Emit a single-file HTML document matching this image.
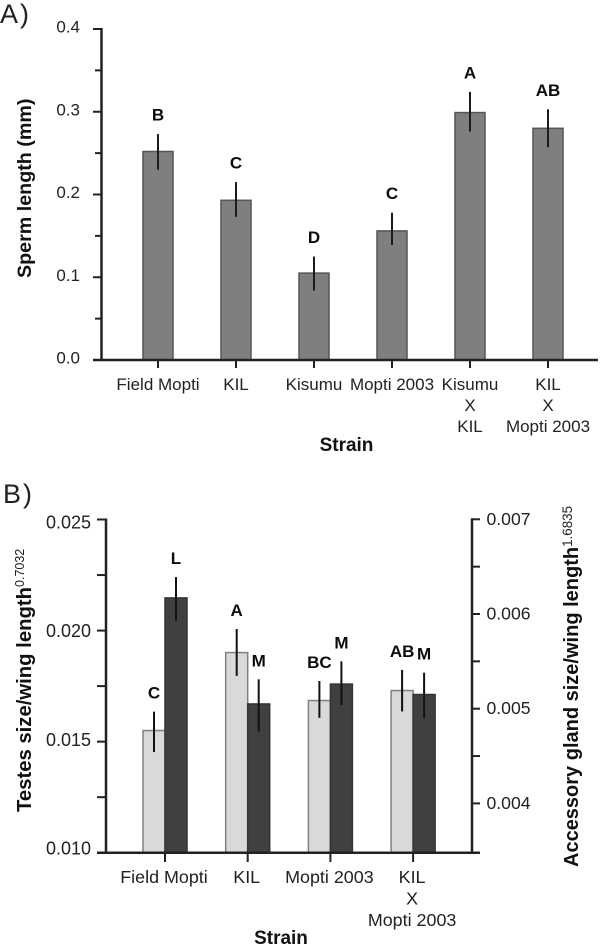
<!DOCTYPE html>
<html lang="en">
<head>
<meta charset="utf-8">
<title>Sperm length and reproductive organ size by strain</title>
<style>
  html, body { margin: 0; padding: 0; background: #fff; }
  body { width: 600px; height: 945px; overflow: hidden; }
  svg { display: block; font-family: "Liberation Sans", Arial, sans-serif; filter: blur(0.35px); }
  .title { font-weight: bold; fill: #111; }
  .sup { font-weight: normal; fill: #222; }
</style>
</head>
<body>
<svg id="figure" xmlns="http://www.w3.org/2000/svg" width="600" height="945" viewBox="0 0 600 945">
  <rect x="0" y="0" width="600" height="945" fill="#ffffff"/>
  <text x="0" y="23" font-size="27" letter-spacing="2" fill="#222">A)</text>
  <text x="3" y="503" font-size="27" letter-spacing="2" fill="#222">B)</text>

  <text class="title" transform="translate(31,278) rotate(-90)" font-size="19.7">Sperm length (mm)</text>
  <text class="title" x="346.5" y="451" font-size="19" text-anchor="middle">Strain</text>

  <text class="title" transform="translate(31,812) rotate(-90)" font-size="20.3">Testes size/wing length<tspan class="sup" font-size="12.5" dy="-7">0.7032</tspan></text>
  <text class="title" transform="translate(578,867) rotate(-90)" font-size="20">Accessory gland size/wing length<tspan class="sup" font-size="13.4" dy="-6">1.6835</tspan></text>
  <text class="title" x="281" y="944" font-size="19" text-anchor="middle">Strain</text>
</svg>

<script>
// Panel A data
const strainsA = [["Field Mopti"], ["KIL"], ["Kisumu"], ["Mopti 2003"], ["Kisumu", "X", "KIL"], ["KIL", "X", "Mopti 2003"]];
const lengthValues = [0.252, 0.193, 0.105, 0.156, 0.299, 0.280];
const lengthUpper = [0.273, 0.215, 0.125, 0.178, 0.324, 0.303];
const lengthLower = [0.230, 0.173, 0.084, 0.139, 0.276, 0.257];
const lengthLetters = ["B", "C", "D", "C", "A", "AB"];
const lengthTicks = [0, 0.1, 0.2, 0.3, 0.4];
const lengthTickLabels = ["0.0", "0.1", "0.2", "0.3", "0.4"];
const lengthMinorTicks = [0.05, 0.15, 0.25, 0.35];

// Panel B data
const strainsB = [["Field Mopti"], ["KIL"], ["Mopti 2003"], ["KIL", "X", "Mopti 2003"]];
const testesValues = [0.0155, 0.01901, 0.01685, 0.0173];
const testesUpper = [0.01635, 0.02007, 0.01773, 0.01823];
const testesLower = [0.01453, 0.01796, 0.01607, 0.01636];
const testesLetters = ["C", "A", "BC", "AB"];
const glandValues = [0.00617, 0.00505, 0.00526, 0.00515];
const glandUpper = [0.00639, 0.00531, 0.0055, 0.00538];
const glandLower = [0.00593, 0.00476, 0.00504, 0.0049];
const glandLetters = ["L", "M", "M", "M"];
const testesTicks = [0.010, 0.015, 0.020, 0.025];
const testesTickLabels = ["0.010", "0.015", "0.020", "0.025"];
const testesMinorTicks = [0.0125, 0.0175, 0.0225];
const glandTicks = [0.004, 0.005, 0.006, 0.007];
const glandTickLabels = ["0.004", "0.005", "0.006", "0.007"];
const glandMinorTicks = [0.0045, 0.0055, 0.0065];

const svg = document.getElementById('figure');
const NS = 'http://www.w3.org/2000/svg';

function mk(tag, attrs, name, text) {
  const el = document.createElementNS(NS, tag);
  for (const k in attrs) el.setAttribute(k, attrs[k]);
  
  
  if (text !== undefined) el.textContent = text;
  svg.appendChild(el);
  return el;
}

// Axis functions
const yA = v => 360 - v * 827.5;
const xA = i => 158 + i * 78;
const yTestes = v => 852.7 - (v - 0.010) * 22213;
const yGland = v => 519.3 + (0.007 - v) * 94700;
const xB = i => 165 + i * 82.7;
const yTestesLabel = v => 848 - (v - 0.010) * 21733;

const AXIS = '#222222';
const ERR = '#1c1c1c';

function line(x1, y1, x2, y2, w, color, name) {
  return mk('line', { x1: x1, y1: y1, x2: x2, y2: y2, stroke: color, 'stroke-width': w }, name);
}

function bar(x, w, yTop, yBase, fill, stroke, name) {
  return mk('rect', { x: x, y: yTop, width: w, height: yBase - yTop, fill: fill, stroke: stroke, 'stroke-width': 1.5 }, name);
}

function letter(x, yCenter, s, name) {
  return mk('text', { x: x, y: yCenter + 6, 'font-size': 17, 'font-weight': 'bold', 'text-anchor': 'middle', fill: '#0c0c0c' }, name, s);
}

function category(x, baseline, lines, step, size, name) {
  lines.forEach((s, j) => {
    mk('text', { x: x, y: baseline + j * step, 'font-size': size, 'text-anchor': 'middle', fill: '#222' }, name, s);
  });
}

// Panel A bars
lengthValues.forEach((v, i) => {
  const c = xA(i);
  bar(c - 15, 30, yA(v), yA(0), '#7f7f7f', '#555555', 'panel-a-bar');
  line(c, yA(lengthUpper[i]), c, yA(lengthLower[i]), 2, ERR, 'panel-a-error-bar');
  letter(c, yA(lengthUpper[i]) - 19.5, lengthLetters[i], 'panel-a-significance-letter');
  line(c, yA(0), c, 368, 2, AXIS, 'panel-a-x-tick');
  category(c, 390, strainsA[i], 21, 17, 'panel-a-category-label');
});

// Panel A axes
line(101.5, yA(0.4) - 1, 101.5, yA(0), 2.5, AXIS, 'panel-a-y-axis');
line(93, yA(0), 598, yA(0), 2.5, AXIS, 'panel-a-x-axis');
lengthTicks.forEach((v, i) => {
  line(93, yA(v), 101.5, yA(v), 2, AXIS, 'panel-a-y-tick');
  mk('text', { x: 80, y: yA(v) + 3.5, 'font-size': 17, 'text-anchor': 'end', fill: '#222' }, 'panel-a-y-tick-label', lengthTickLabels[i]);
});
lengthMinorTicks.forEach(v => {
  line(95, yA(v), 101.5, yA(v), 2, AXIS, 'panel-a-y-minor-tick');
});

// Panel B bars
testesValues.forEach((v, i) => {
  const c = xB(i);
  const barW = 22;
  bar(c - barW, barW, yTestes(v), yTestes(0.010), '#d9d9d9', '#808080', 'panel-b-testes-bar');
  bar(c, barW, yGland(glandValues[i]), yTestes(0.010), '#404040', '#333333', 'panel-b-gland-bar');
  const cl = c - barW / 2;
  const cd = c + barW / 2;
  line(cl, yTestes(testesUpper[i]), cl, yTestes(testesLower[i]), 2, '#111', 'panel-b-testes-error-bar');
  line(cd, yGland(glandUpper[i]), cd, yGland(glandLower[i]), 2, '#111', 'panel-b-gland-error-bar');
  letter(cl, yTestes(testesUpper[i]) - 19, testesLetters[i], 'panel-b-testes-letter');
  letter(cd, yGland(glandUpper[i]) - 19, glandLetters[i], 'panel-b-gland-letter');
  line(c, yTestes(0.010), c, 862, 2, AXIS, 'panel-b-x-tick');
  category(c - 1, 883, strainsB[i], 21.5, 17.9, 'panel-b-category-label');
});

// Panel B axes
line(106, yTestes(0.025) - 1, 106, yTestes(0.010), 2.5, AXIS, 'panel-b-left-y-axis');
line(472, yGland(0.007) - 1, 472, yTestes(0.010), 2.5, AXIS, 'panel-b-right-y-axis');
line(97, yTestes(0.010), 480, yTestes(0.010), 2.5, AXIS, 'panel-b-x-axis');
testesTicks.forEach((v, i) => {
  line(97, yTestes(v), 106, yTestes(v), 2, AXIS, 'panel-b-left-y-tick');
  mk('text', { x: 91, y: yTestesLabel(v) + 6.5, 'font-size': 18, 'text-anchor': 'end', fill: '#222' }, 'panel-b-left-y-tick-label', testesTickLabels[i]);
});
testesMinorTicks.forEach(v => {
  line(97, yTestes(v), 106, yTestes(v), 2, AXIS, 'panel-b-left-y-minor-tick');
});
glandTicks.forEach((v, i) => {
  line(472, yGland(v), 480, yGland(v), 2, AXIS, 'panel-b-right-y-tick');
  mk('text', { x: 486.5, y: yGland(v) + 5.5, 'font-size': 17.6, fill: '#222' }, 'panel-b-right-y-tick-label', glandTickLabels[i]);
});
glandMinorTicks.forEach(v => {
  line(472, yGland(v), 480, yGland(v), 2, AXIS, 'panel-b-right-y-minor-tick');
});
</script>
</body>
</html>
